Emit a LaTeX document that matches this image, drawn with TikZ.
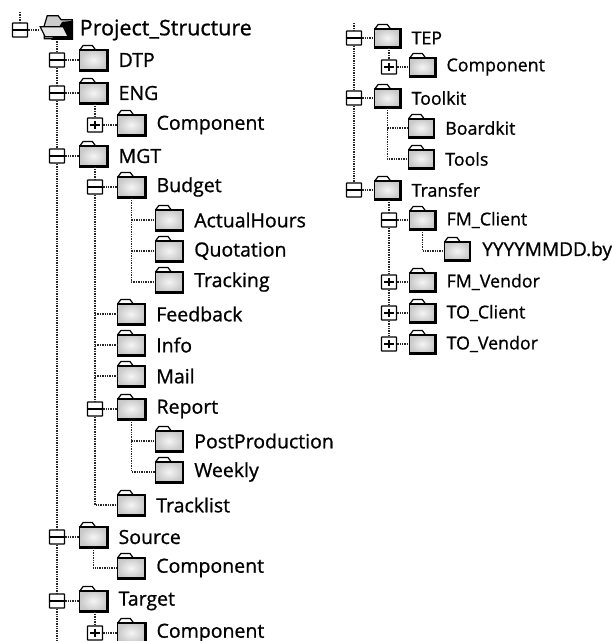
\documentclass[tikz,border=0pt]{standalone}
\usepackage{fontspec}
\setmainfont{Open Sans}[RawFeature={embolden=0.9}]
\usetikzlibrary{positioning,calc}
\tikzset{
  handle/.style={draw=black, fill=white, line width=1.4pt, rounded corners=0.5pt, minimum width=15pt, minimum height=14pt, inner sep=0pt},
  minusbox/.style={handle, path picture={\draw[line width=2pt] (path picture bounding box.west) -- (path picture bounding box.east);}},
  plusbox/.style={handle, path picture={\draw[line width=2pt] ($(path picture bounding box.center)+(-5,0)$) -- ++(10,0);
                                        \draw[line width=2pt] ($(path picture bounding box.center)+(0,-4)$) -- ++(0,8);}},
  folder/.style={draw=black, line width=1.2pt, shading=radial, inner color=gray!8, outer color=gray!42,
                 minimum width=27pt, minimum height=20pt, inner sep=0pt},
  rfolder/.style={folder, minimum width=25pt, minimum height=18pt},
  foldertab/.style={draw=black, line width=1.2pt, line join=round},
  foldershade/.style={draw=black, line width=2.6pt},
  treeline/.style={densely dotted, line width=1.4pt, black!85},
  name label/.style={inner sep=0pt, anchor=west, font=\fontsize{19.5}{19.5}\selectfont, text=black},
  rname label/.style={name label, font=\fontsize{17.8}{17.8}\selectfont},
  x=1pt, y=-1pt, node distance=11pt
}
\begin{document}
\begin{tikzpicture}
\useasboundingbox (0,0) rectangle (613,641);
% left column, first level
\node[minusbox] (rootbox) at (20,30) {};
\node[inner sep=0pt, minimum width=33pt, minimum height=22pt, right=12pt of rootbox] (root) {};
\node[name label, font=\fontsize{21.5}{21.5}\selectfont, right=6pt of root] (rootname) {Project\_Structure};
\coordinate (roottop) at (20,12);
\coordinate (treeend) at (57,641);
\node[minusbox] (dtpbox) at (57,60) {};
\node[folder, right=14pt of dtpbox] (dtp) {};
\node[name label, right=of dtp] (dtpname) {DTP};
\node[minusbox] (engbox) at (57,93) {};
\node[folder, right=14pt of engbox] (eng) {};
\node[name label, right=of eng] (engname) {ENG};
\node[minusbox] (mgtbox) at (57,156) {};
\node[folder, right=14pt of mgtbox] (mgt) {};
\node[name label, right=of mgt] (mgtname) {MGT};
\node[minusbox] (srcbox) at (57,537) {};
\node[folder, right=14pt of srcbox] (src) {};
\node[name label, right=of src] (srcname) {Source};
\node[minusbox] (tgtbox) at (57,601) {};
\node[folder, right=14pt of tgtbox] (tgt) {};
\node[name label, right=of tgt] (tgtname) {Target};
% left column, second level
\node[plusbox] (engcompbox) at (95,125) {};
\node[folder, right=14pt of engcompbox] (engcomp) {};
\node[name label, right=of engcomp] (engcompname) {Component};
\node[minusbox] (budgetbox) at (95,187) {};
\node[folder, right=14pt of budgetbox] (budget) {};
\node[name label, right=of budget] (budgetname) {Budget};
\node[folder] (feedback) at (131,314) {};
\node[name label, right=of feedback] (feedbackname) {Feedback};
\node[folder] (info) at (131,345) {};
\node[name label, right=of info] (infoname) {Info};
\node[folder] (mail) at (131,376) {};
\node[name label, right=of mail] (mailname) {Mail};
\node[minusbox] (reportbox) at (95,409) {};
\node[folder, right=14pt of reportbox] (report) {};
\node[name label, right=of report] (reportname) {Report};
\node[folder] (tracklist) at (131,505) {};
\node[name label, right=of tracklist] (tracklistname) {Tracklist};
\node[folder] (srccomp) at (131,568) {};
\node[name label, right=of srccomp] (srccompname) {Component};
\node[plusbox] (tgtcompbox) at (95,633) {};
\node[folder, right=14pt of tgtcompbox] (tgtcomp) {};
\node[name label, right=of tgtcomp] (tgtcompname) {Component};
% left column, third level
\node[folder] (actual) at (169,220) {};
\node[name label, right=of actual] (actualname) {ActualHours};
\node[folder] (quote) at (169,251) {};
\node[name label, right=of quote] (quotename) {Quotation};
\node[folder] (tracking) at (169,282) {};
\node[name label, right=of tracking] (trackingname) {Tracking};
\node[folder] (postprod) at (169,441) {};
\node[name label, right=of postprod] (postprodname) {PostProduction};
\node[folder] (weekly) at (169,472) {};
\node[name label, right=of weekly] (weeklyname) {Weekly};
% right column
\node[minusbox] (tepbox) at (354,38) {};
\node[rfolder, right=12pt of tepbox] (tep) {};
\node[rname label, right=of tep] (tepname) {TEP};
\node[plusbox] (tepcompbox) at (389,67) {};
\node[rfolder, right=12pt of tepcompbox] (tepcomp) {};
\node[rname label, right=of tepcomp] (tepcompname) {Component};
\node[minusbox] (toolkitbox) at (354,98) {};
\node[rfolder, right=12pt of toolkitbox] (toolkit) {};
\node[rname label, right=of toolkit] (toolkitname) {Toolkit};
\node[rfolder] (boardkit) at (421,128) {};
\node[rname label, right=of boardkit] (boardkitname) {Boardkit};
\node[rfolder] (tools) at (421,159) {};
\node[rname label, right=of tools] (toolsname) {Tools};
\node[minusbox] (transferbox) at (354,190) {};
\node[rfolder, right=12pt of transferbox] (transfer) {};
\node[rname label, right=of transfer] (transfername) {Transfer};
\node[minusbox] (fmclientbox) at (389,220) {};
\node[rfolder, right=12pt of fmclientbox] (fmclient) {};
\node[rname label, right=of fmclient] (fmclientname) {FM\_Client};
\node[rfolder] (datefolder) at (457,251) {};
\node[rname label, font=\fontsize{19}{19}\selectfont, right=12pt of datefolder] (datefoldername) {YYYYMMDD.by};
\node[plusbox] (fmvendorbox) at (389,282) {};
\node[rfolder, right=12pt of fmvendorbox] (fmvendor) {};
\node[rname label, right=of fmvendor] (fmvendorname) {FM\_Vendor};
\node[plusbox] (toclientbox) at (389,313) {};
\node[rfolder, right=12pt of toclientbox] (toclient) {};
\node[rname label, right=of toclient] (toclientname) {TO\_Client};
\node[plusbox] (tovendorbox) at (389,344) {};
\node[rfolder, right=12pt of tovendorbox] (tovendor) {};
\node[rname label, right=of tovendor] (tovendorname) {TO\_Vendor};
\coordinate (righttop) at (354,23);
% folder tabs and shadows
\foreach \fld in {dtp,eng,mgt,src,tgt,engcomp,budget,feedback,info,mail,report,tracklist,srccomp,tgtcomp,actual,quote,tracking,postprod,weekly,tep,tepcomp,toolkit,boardkit,tools,transfer,fmclient,datefolder,fmvendor,toclient,tovendor} {
  \draw[foldertab] ($(\fld.north west)+(1,0)$) -- ++(3,-4) -- ++(9,0) -- ++(3,4);
  \draw[foldershade] (\fld.north east) -- (\fld.south east) -- (\fld.south west);
}
% open root folder
\draw[black, fill=gray!40, line width=1.2pt] ($(root.north west)+(4,7)$) -- ++(3,-10) -- ++(11,0) -- ++(3,4) -- ++(11,0) -- ++(0,19) -- ++(-28,0) -- cycle;
\fill[black] ($(root.north west)+(22,3)$) -- ++(11,-1) -- ++(0,19) -- ++(-22,0) -- cycle;
\draw[black, fill=gray!20, line width=1.2pt] ($(root.north west)+(0,8)$) -- ++(23,0) -- ++(5,10) -- ++(-23,0) -- cycle;
% connectors, box to folder
\foreach \hnd/\fld in {rootbox/root,dtpbox/dtp,engbox/eng,mgtbox/mgt,srcbox/src,tgtbox/tgt,engcompbox/engcomp,budgetbox/budget,reportbox/report,tgtcompbox/tgtcomp,tepbox/tep,tepcompbox/tepcomp,toolkitbox/toolkit,transferbox/transfer,fmclientbox/fmclient,fmvendorbox/fmvendor,toclientbox/toclient,tovendorbox/tovendor}
  \draw[treeline] (\hnd) -- (\fld);
% connectors, trunks
\draw[treeline] (roottop) -- (rootbox);
\draw[treeline] (dtpbox |- root.south) -- (dtpbox);
\draw[treeline] (dtpbox) -- (engbox);
\draw[treeline] (engbox) -- (mgtbox);
\draw[treeline] (mgtbox) -- (srcbox);
\draw[treeline] (srcbox) -- (tgtbox);
\draw[treeline] (tgtbox) -- (treeend);
\draw[treeline] (engcompbox |- eng.south) -- (engcompbox);
\draw[treeline] (budgetbox |- mgt.south) -- (budgetbox);
\draw[treeline] (budgetbox) -- (reportbox);
\draw[treeline] (reportbox) |- (tracklist);
\draw[treeline] (budgetbox |- feedback) -- (feedback);
\draw[treeline] (budgetbox |- info) -- (info);
\draw[treeline] (budgetbox |- mail) -- (mail);
\draw[treeline] (budget.south) |- (tracking);
\draw[treeline] (budget.south |- actual) -- (actual);
\draw[treeline] (budget.south |- quote) -- (quote);
\draw[treeline] (report.south) |- (weekly);
\draw[treeline] (report.south |- postprod) -- (postprod);
\draw[treeline] (src.south) |- (srccomp);
\draw[treeline] (tgtcompbox |- tgt.south) -- (tgtcompbox);
\draw[treeline] (righttop) -- (tepbox);
\draw[treeline] (tepbox) -- (toolkitbox);
\draw[treeline] (toolkitbox) -- (transferbox);
\draw[treeline] (tepcompbox |- tep.south) -- (tepcompbox);
\draw[treeline] (toolkit.south) |- (tools);
\draw[treeline] (toolkit.south |- boardkit) -- (boardkit);
\draw[treeline] (fmclientbox |- transfer.south) -- (fmclientbox);
\draw[treeline] (fmclientbox) -- (fmvendorbox);
\draw[treeline] (fmvendorbox) -- (toclientbox);
\draw[treeline] (toclientbox) -- (tovendorbox);
\draw[treeline] (fmclient.south) |- (datefolder);
\end{tikzpicture}
\end{document}
